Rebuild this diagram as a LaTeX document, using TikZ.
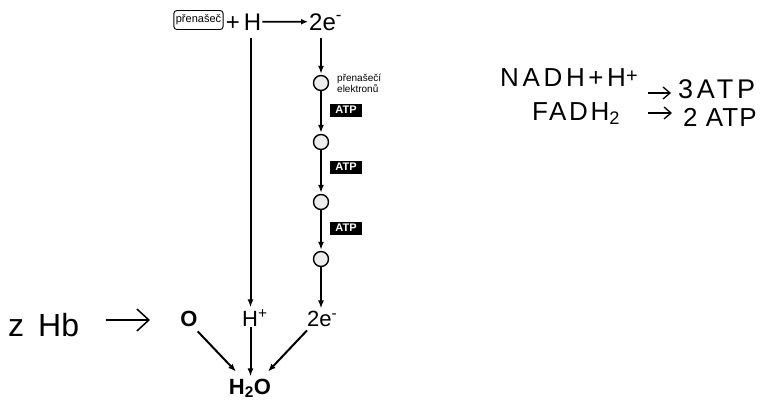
\documentclass[tikz,border=0pt]{standalone}
\usepackage{fontspec}
\setmainfont{Liberation Sans}
\usetikzlibrary{arrows.meta}
\begin{document}
\begin{tikzpicture}[x=1pt,y=-1pt,
  lbl/.style={font=\fontsize{24}{26}\selectfont, inner sep=1pt},
  lbls/.style={font=\fontsize{22}{24}\selectfont, inner sep=1pt},
  blbl/.style={font=\fontsize{22}{24}\selectfont\bfseries, inner sep=1pt},
  arr/.style={line width=2pt, -{Latex[length=8pt,width=6pt]}, shorten >=1pt},
  carrier/.style={circle, draw, line width=1.4pt, fill=gray!15, minimum size=15pt, inner sep=0pt},
  atp/.style={fill=black, text=white, font=\fontsize{11}{12}\selectfont\bfseries, inner sep=1pt, minimum width=32pt, minimum height=13pt},
  hand/.style={font=\fontsize{26}{28}\selectfont\addfontfeature{LetterSpace=14}, inner sep=0pt},
  handarr/.style={line width=1.3pt, -{Straight Barb[length=7pt,width=12pt]}},
  bigarr/.style={line width=1.5pt, -{Straight Barb[length=12pt,width=22pt]}}
]
\useasboundingbox (0,0) rectangle (768,400);
% top row
\node[draw, rounded corners=3pt, line width=0.9pt, font=\fontsize{11}{12}\selectfont, inner sep=2pt, minimum height=19pt, minimum width=47pt] (car) at (198.5,20) {přenašeč};
\node[lbl, anchor=base] (plus) at (233,30) {+};
\node[lbl, anchor=base] (H) at (252.5,30) {H};
\node[lbl, anchor=base west] (e1) at (308,30) {2e\textsuperscript{-}};
\draw[line width=1.6pt, -{Latex[length=7pt,width=6pt]}] (H.east) -- (e1.west);
% electron carriers
\node[carrier] (c1) at (321,83) {};
\node[carrier] (c2) at (321,142) {};
\node[carrier] (c3) at (321,202) {};
\node[carrier] (c4) at (321,259) {};
\node[anchor=west, font=\fontsize{10}{10}\selectfont, align=left, inner sep=0pt] (lab) at (337,83) {přenašečí\\elektronů};
\node[atp] (a1) at (346,110) {ATP};
\node[atp] (a2) at (346,167) {ATP};
\node[atp] (a3) at (346,228) {ATP};
% bottom row
\node[blbl, anchor=base] (O) at (189,326) {O};
\node[lbls, anchor=base west] (Hp) at (241,326) {H\textsuperscript{+}};
\node[lbls, anchor=base west] (e2) at (306,326) {2e\textsuperscript{-}};
\node[blbl, anchor=base] (w) at (250,394) {H\textsubscript{2}O};
% connectors
\coordinate (Hs) at (250.5,38);
\draw[arr, shorten <=7pt] (H.south -| Hs) -- (Hp.north -| Hs);
\draw[arr, shorten <=7pt] (e1.south -| c1) -- (c1);
\draw[arr] (c1) -- (c2);
\draw[arr] (c2) -- (c3);
\draw[arr] (c3) -- (c4);
\draw[arr] (c4) -- (e2.north -| c4);
\draw[arr] ([xshift=-1pt,yshift=-4pt]O.south east) -- ([xshift=9pt,yshift=5pt]w.north west);
\draw[arr] (Hp.south -| Hs) -- (w.north -| Hs);
\draw[arr] ([xshift=1pt,yshift=-3pt]e2.south west) -- ([xshift=-5pt,yshift=5pt]w.north east);
% handwritten notes
\node[font=\fontsize{32}{34}\selectfont, anchor=base west, inner sep=0pt] (zhb) at (8,336) {z\hspace{14pt}Hb};
\coordinate (ha1) at (106,320);
\coordinate (ha2) at (150,320);
\draw[bigarr] (ha1) -- (ha2);
\node[hand, anchor=base west] (nadh) at (500,86) {NADH+H\raisebox{4pt}{\fontsize{20}{20}\selectfont +}};
\coordinate (r1a) at (648,93);
\coordinate (r1b) at (671,93);
\draw[handarr] (r1a) -- (r1b);
\node[hand, anchor=base west, font=\fontsize{27}{28}\selectfont\addfontfeature{LetterSpace=14}] (atp3) at (678,98) {3ATP};
\node[hand, anchor=base west, font=\fontsize{26}{28}\selectfont\addfontfeature{LetterSpace=10}] (fadh) at (532,120) {FADH\textsubscript{2}};
\coordinate (r2a) at (648,113);
\coordinate (r2b) at (672,113);
\draw[handarr] (r2a) -- (r2b);
\node[hand, anchor=base west, font=\fontsize{26}{28}\selectfont\addfontfeature{LetterSpace=4}] (atp2) at (683,126) {2 ATP};
\end{tikzpicture}
\end{document}
